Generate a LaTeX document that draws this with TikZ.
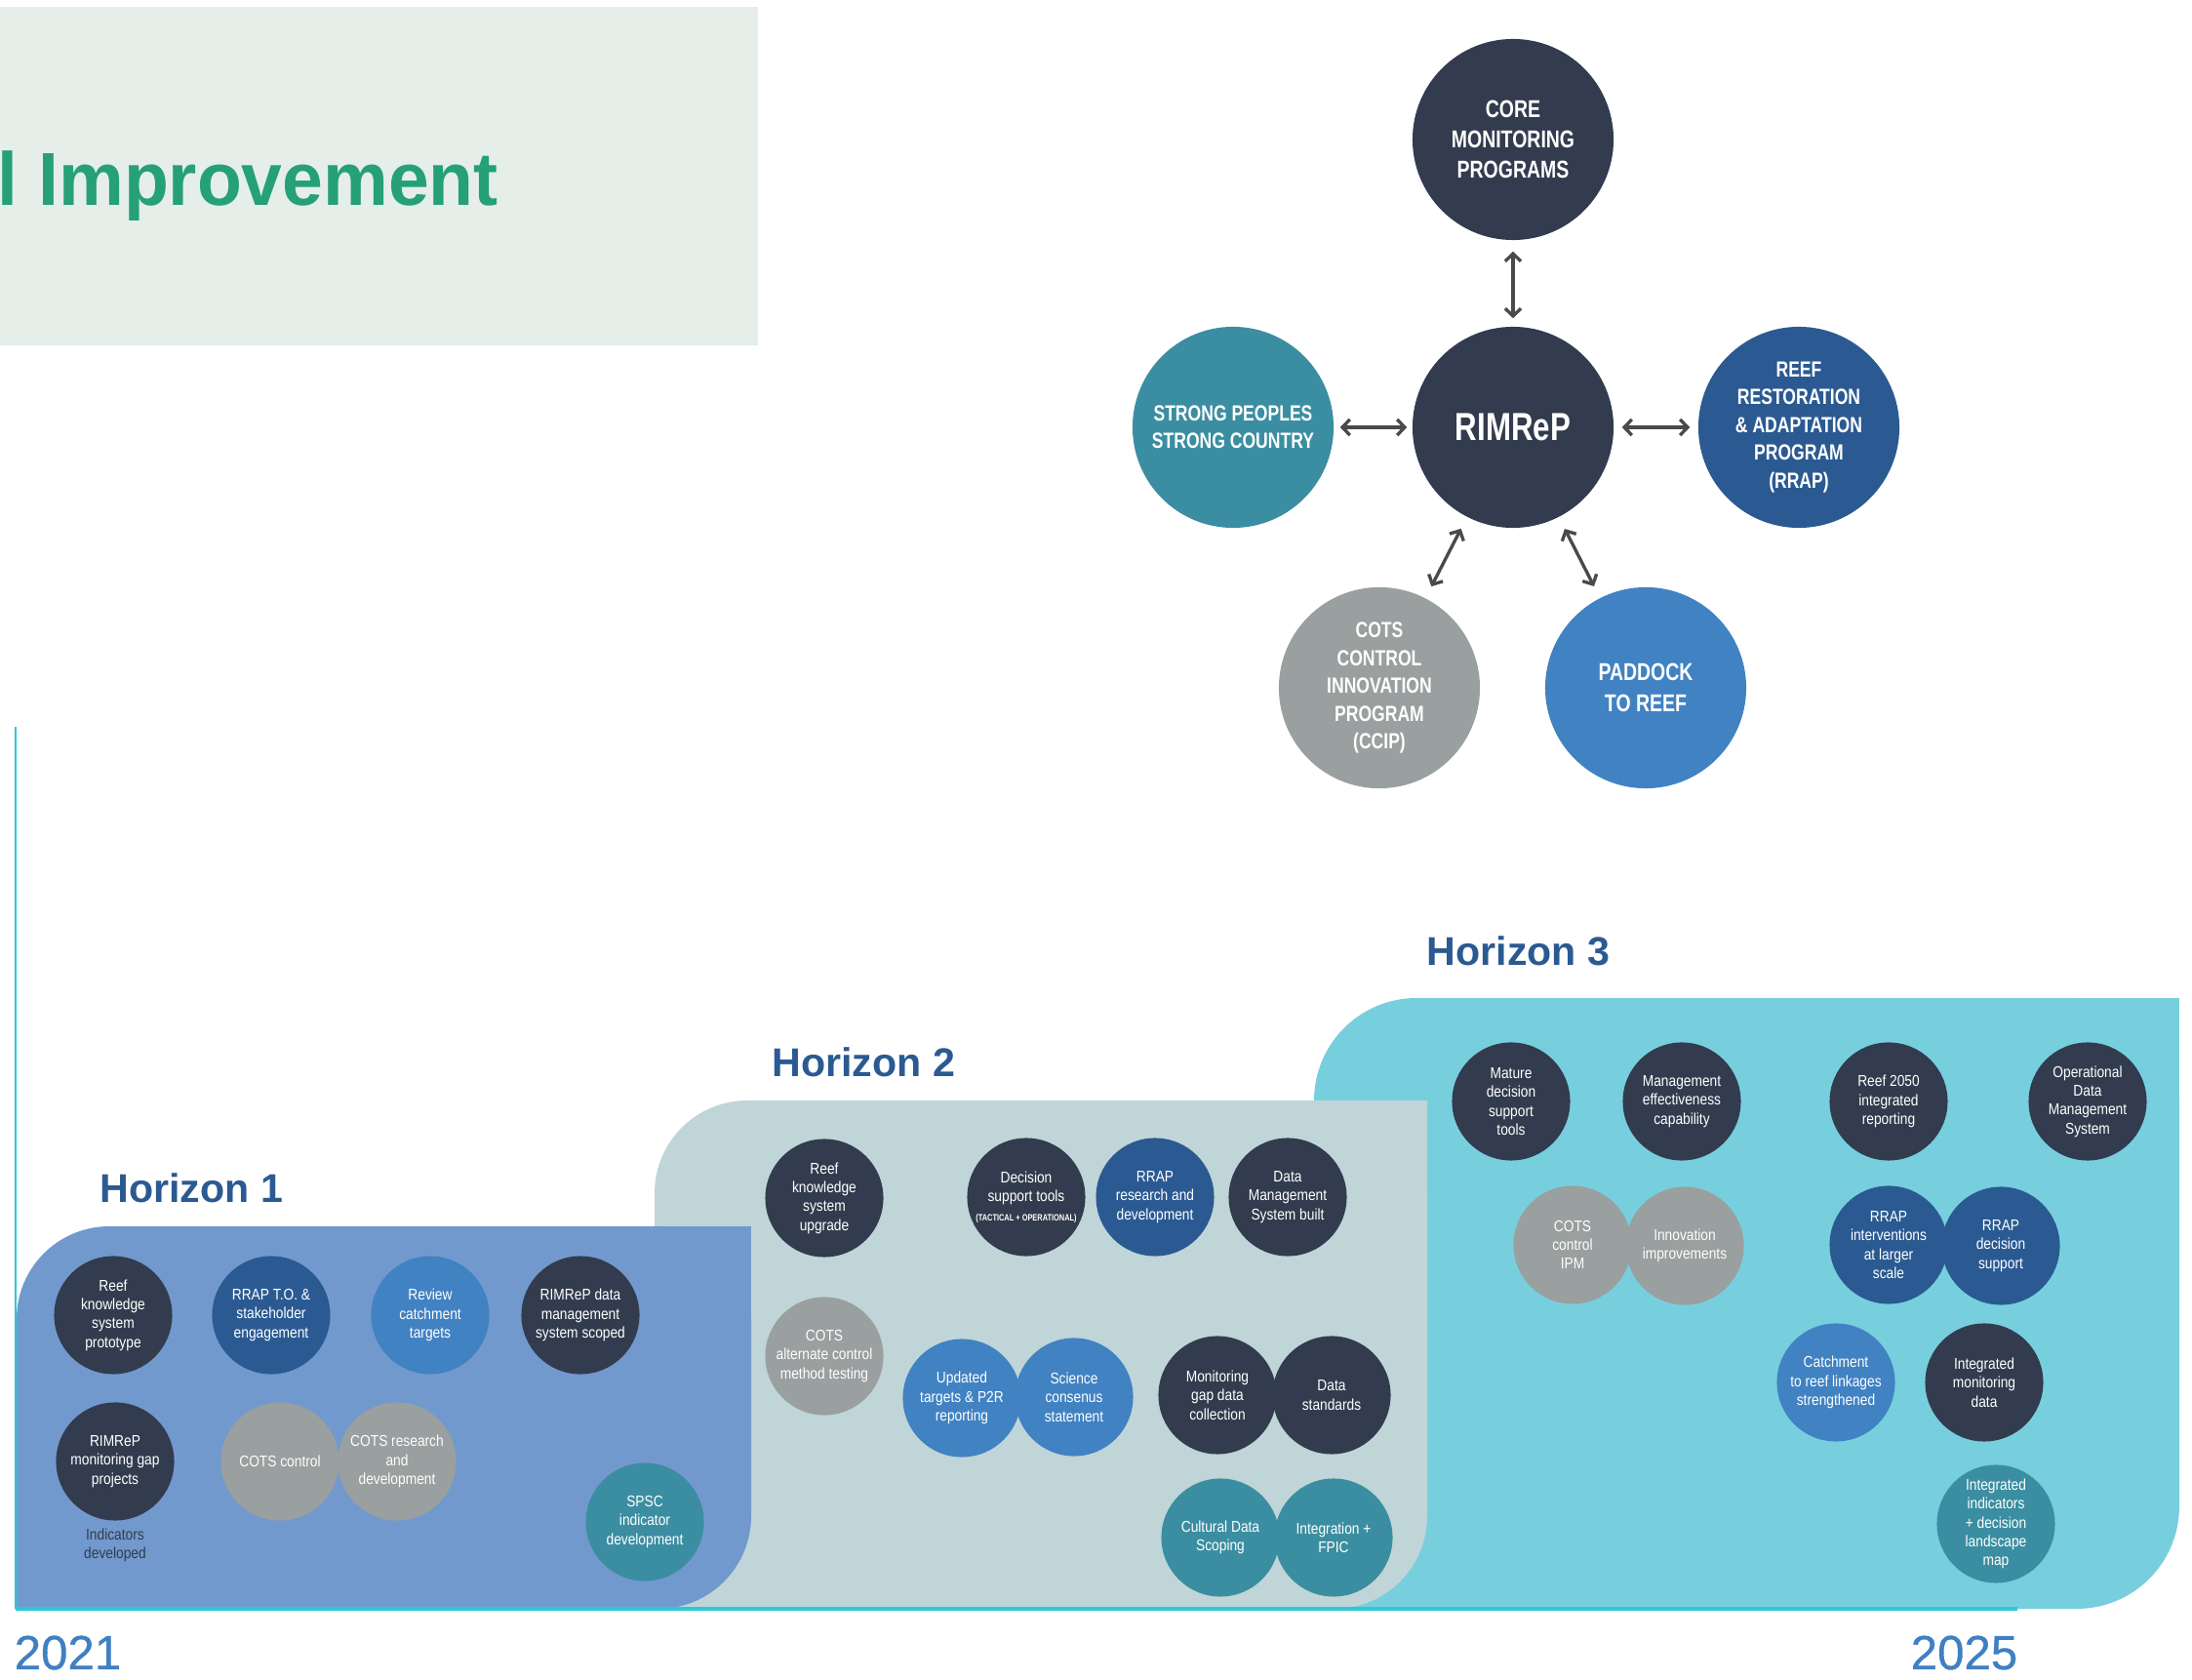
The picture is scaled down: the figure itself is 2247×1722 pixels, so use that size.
\documentclass[tikz,border=0pt]{standalone}
\usepackage{fontspec}
\setmainfont{Liberation Sans}
\newfontfamily\condreg[FakeStretch=0.86]{Liberation Sans}
\newfontfamily\condbold[FakeStretch=0.78]{Liberation Sans}
\newfontfamily\titlef[FakeStretch=0.975]{Liberation Sans}
\newfontfamily\yearf[FakeBold=0.7]{Liberation Sans}
\usetikzlibrary{arrows.meta}
\definecolor{cdark}{HTML}{323C4E}
\definecolor{cteal}{HTML}{3B8EA1}
\definecolor{crrap}{HTML}{2B5A92}
\definecolor{cgrey}{HTML}{9A9F9F}
\definecolor{cpblue}{HTML}{4182C2}
\definecolor{hone}{HTML}{7299CD}
\definecolor{htwo}{HTML}{C0D5D7}
\definecolor{hthree}{HTML}{77CFDE}
\definecolor{ccyan}{HTML}{2BC8DA}
\definecolor{ctitle}{HTML}{25A079}
\definecolor{cgbox}{HTML}{E5EEE9}
\definecolor{chlabel}{HTML}{2B5A92}
\definecolor{cyear}{HTML}{3F80C2}
\definecolor{carrow}{HTML}{4A4A4A}
\begin{document}
\begin{tikzpicture}[x=0.01cm,y=-0.01cm,
  bigc/.style={circle,minimum size=2.06cm,inner sep=0pt,text=white,align=center,
    font=\condbold\bfseries\fontsize{6.4}{8.1}\selectfont},
  bigl/.style={font=\condbold\bfseries\fontsize{7.1}{8.9}\selectfont},
  smc/.style={circle,minimum size=1.21cm,inner sep=0pt,text=white,align=center,
    font=\condreg\fontsize{4.55}{5.5}\selectfont},
  dk/.style={fill=cdark}, tl/.style={fill=cteal}, rb/.style={fill=crrap},
  gy/.style={fill=cgrey}, pb/.style={fill=cpblue},
  arr/.style={draw=carrow,line width=0.95pt,{Straight Barb[length=2.2pt,width=4.6pt]}-{Straight Barb[length=2.2pt,width=4.6pt]}},
  hlabel/.style={anchor=base west,inner sep=0pt,text=chlabel,font=\bfseries\fontsize{11.7}{14}\selectfont},
  year/.style={anchor=base west,inner sep=0pt,text=cyear,font=\yearf\fontsize{14}{16}\selectfont},
  cyanline/.style={draw=ccyan}
]
\useasboundingbox (0,0) rectangle (2247,1722);

% title box
\fill[cgbox] (0,7) rectangle (777,354);
\node[anchor=base west,inner sep=0pt,text=ctitle,font=\titlef\bfseries\fontsize{21.9}{26}\selectfont] (title) at (-3,211) {l Improvement};

% top cluster
\node[bigc,dk,bigl] (core) at (1551,143) {CORE\\MONITORING\\PROGRAMS};
\node[bigc,dk,font=\condbold\bfseries\fontsize{11.4}{13}\selectfont] (rim) at (1551,438) {RIMReP};
\node[bigc,tl] (strong) at (1264,438) {STRONG PEOPLES\\STRONG COUNTRY};
\node[bigc,rb] (rrap) at (1844,438) {REEF\\RESTORATION\\\& ADAPTATION\\PROGRAM\\(RRAP)};
\node[bigc,gy] (ccip) at (1414,705) {COTS\\CONTROL\\INNOVATION\\PROGRAM\\(CCIP)};
\node[bigc,pb,bigl] (ptr) at (1687,705) {PADDOCK\\TO REEF};

\draw[arr,shorten <=0.11cm,shorten >=0.08cm] (core) -- (rim);
\draw[arr,shorten <=0.06cm,shorten >=0.05cm] (strong) -- (rim);
\draw[arr,shorten <=0.08cm,shorten >=0.08cm] (rim) -- (rrap);
\draw[arr,shorten <=0.13cm,shorten >=0.13cm] (rim) -- (ccip);
\draw[arr,shorten <=0.13cm,shorten >=0.13cm] (rim) -- (ptr);

% horizon 3 box
\fill[hthree,rounded corners=1.05cm] (1347,1023) rectangle (2234,1649);
\fill[hthree] (1347,1400) rectangle (1700,1649);
\fill[hthree] (1900,1023) rectangle (2234,1300);
% horizon 2 box
\fill[htwo,rounded corners=0.95cm] (671,1128) rectangle (1463,1649);
\fill[htwo] (671,1400) rectangle (1000,1649);
\fill[htwo] (1200,1128) rectangle (1463,1400);
% horizon 1 box
\fill[hone,rounded corners=0.95cm] (17,1257) rectangle (770,1649);
\fill[hone] (17,1450) rectangle (300,1649);
\fill[hone] (500,1257) rectangle (770,1450);

% timeline lines
\draw[cyanline,line width=0.85pt] (16,745) -- (16,1649);
\draw[cyanline,line width=1.1pt] (16,1649) -- (2068,1649);

% labels
\node[hlabel] (h1) at (102,1233) {Horizon 1};
\node[hlabel] (h2) at (791,1104) {Horizon 2};
\node[hlabel] (h3) at (1462,990) {Horizon 3};
\node[year] (y1) at (14,1711) {2021};
\node[year] (y2) at (1958,1711) {2025};

% Horizon 1 circles
\node[smc,dk] (reefproto) at (116,1348) {Reef\\knowledge\\system\\prototype};
\node[smc,rb] (rrapto) at (278,1348) {RRAP T.O. \&\\stakeholder\\engagement};
\node[smc,pb] (review) at (441,1348) {Review\\catchment\\targets};
\node[smc,dk] (rimdata) at (595,1348) {RIMReP data\\management\\system scoped};
\node[smc,dk] (rimgap) at (118,1498) {RIMReP\\monitoring gap\\projects};
\node[align=center,inner sep=0pt,text=cdark,font=\condreg\fontsize{4.55}{5.5}\selectfont] (indic) at (118,1584) {Indicators\\developed};
\node[smc,gy] (cotsctl) at (287,1498) {COTS control};
\node[smc,gy] (cotsrd) at (407,1498) {COTS research\\and\\development};
\node[smc,tl] (spsc) at (661,1560) {SPSC\\indicator\\development};

% Horizon 2 circles
\node[smc,dk] (reefup) at (845,1228) {Reef\\knowledge\\system\\upgrade};
\node[smc,dk] (decision) at (1052,1227) {Decision\\support tools\\{\condbold\bfseries\fontsize{2.7}{3.4}\selectfont (TACTICAL + OPERATIONAL)}};
\node[smc,rb] (rrapres) at (1184,1227) {RRAP\\research and\\development};
\node[smc,dk] (dms) at (1320,1227) {Data\\Management\\System built};
\node[smc,gy] (cotsalt) at (845,1390) {COTS\\alternate control\\method testing};
\node[smc,pb] (updated) at (986,1433) {Updated\\targets \& P2R\\reporting};
\node[smc,pb] (science) at (1101,1432) {Science\\consenus\\statement};
\node[smc,dk] (mongap) at (1248,1430) {Monitoring\\gap data\\collection};
\node[smc,dk] (datastd) at (1365,1430) {Data\\standards};
\node[smc,tl] (cultural) at (1251,1576) {Cultural Data\\Scoping};
\node[smc,tl] (integ) at (1367,1576) {Integration +\\FPIC};

% Horizon 3 circles
\node[smc,dk] (mature) at (1549,1129) {Mature\\decision\\support\\tools};
\node[smc,dk] (mgmt) at (1724,1129) {Management\\effectiveness\\capability};
\node[smc,dk] (reef2050) at (1936,1129) {Reef 2050\\integrated\\reporting};
\node[smc,dk] (opdms) at (2140,1129) {Operational\\Data\\Management\\System};
\node[smc,gy] (cotsipm) at (1612,1276) {COTS\\control\\IPM};
\node[smc,gy] (innov) at (1727,1277) {Innovation\\improvements};
\node[smc,rb] (rrapint) at (1936,1276) {RRAP\\interventions\\at larger\\scale};
\node[smc,rb] (rrapdec) at (2051,1277) {RRAP\\decision\\support};
\node[smc,pb] (catch) at (1882,1417) {Catchment\\to reef linkages\\strengthened};
\node[smc,dk] (intmon) at (2034,1417) {Integrated\\monitoring\\data};
\node[smc,tl] (intind) at (2046,1562) {Integrated\\indicators\\+ decision\\landscape\\map};
\end{tikzpicture}
\end{document}
